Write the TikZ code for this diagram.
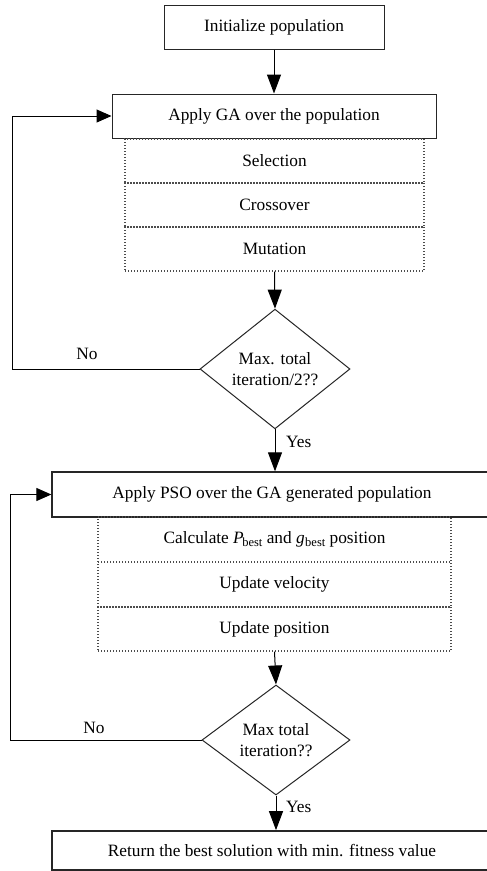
\documentclass[tikz,border=0pt]{standalone}
\usepackage{fontspec}
\setmainfont{Liberation Serif}
\usetikzlibrary{shapes.geometric,arrows.meta}
\newcommand{\subbest}{\raisebox{-0.35ex}{\fontsize{12.5}{12.5}\selectfont best}}
\begin{document}
\begin{tikzpicture}[x=1pt,y=-1pt,
  every node/.style={font=\fontsize{17.3}{21}\selectfont, inner sep=0pt},
  solidbox/.style={draw=black!85, line width=1pt, rectangle},
  dotbox/.style={draw=black!70, line width=1.1pt, dash pattern=on 1pt off 2pt, rectangle},
  decision/.style={draw=black!85, line width=1pt, diamond, align=center},
  arr/.style={line width=1pt, -{Triangle[length=19pt,width=14pt]}},
  sidearr/.style={line width=1pt, -{Triangle[length=15pt,width=13pt]}},
  lbl/.style={font=\fontsize{17.3}{21}\selectfont}
]
\useasboundingbox (0,0) rectangle (487,871);
\fill[white] (0,0) rectangle (487,871);

% GA part
\node[solidbox, minimum width=220pt, minimum height=44pt] (init) at (274,27) {Initialize population};
\node[solidbox, minimum width=324pt, minimum height=44pt] (ga) at (274,116) {Apply GA over the population};
\node[dotbox, minimum width=299pt, minimum height=44pt] (sel) at (274.5,161) {Selection};
\node[dotbox, minimum width=299pt, minimum height=44pt] (cro) at (274.5,205) {Crossover};
\node[dotbox, minimum width=299pt, minimum height=44pt] (mut) at (274.5,249) {Mutation};
\node[decision, minimum width=150pt, minimum height=112pt] (d1) at (275,369) {Max. total\\iteration/2??};

% PSO part
\node[solidbox, line width=1.3pt, minimum width=446pt, minimum height=45pt] (pso) at (275,494.5) {\hspace*{-6pt}Apply PSO over the GA generated population};
\node[dotbox, minimum width=353pt, minimum height=45pt] (calc) at (274.5,539.5) {Calculate \textit{P}\kern-1.5pt\subbest{} and \textit{g}\kern0.5pt\subbest{} position};
\node[dotbox, minimum width=353pt, minimum height=45pt] (vel) at (274.5,584.5) {Update velocity};
\node[dotbox, minimum width=353pt, minimum height=44pt] (pos) at (274.5,629) {Update position};
\node[decision, minimum width=148pt, minimum height=110pt] (d2) at (276,740) {Max total\\iteration??};
\node[solidbox, line width=1.7pt, minimum width=446pt, minimum height=39pt] (fin) at (275,850.5) {\hspace*{-6pt}Return the best solution with min. fitness value};

% connectors
\coordinate (l1) at (12,369);
\coordinate (l2) at (10,740);
\draw[arr] (init.south) -- (ga.north);
\draw[arr] (mut.south) -- (d1.north);
\draw[sidearr] (d1.west) -- (l1) |- (ga.west);
\node[lbl] (no1) at (87,354) {No};
\draw[arr] (d1.south) -- (d1.south |- pso.north);
\node[lbl, anchor=west] (yes1) at (286,442) {Yes};
\draw[arr] (pos.south) -- (d2.north);
\draw[sidearr] (d2.west) -- (l2) |- (pso.west);
\node[lbl] (no2) at (94,728) {No};
\draw[arr] (d2.south) -- (d2.south |- fin.north);
\node[lbl, anchor=west] (yes2) at (286,807) {Yes};
\end{tikzpicture}
\end{document}
